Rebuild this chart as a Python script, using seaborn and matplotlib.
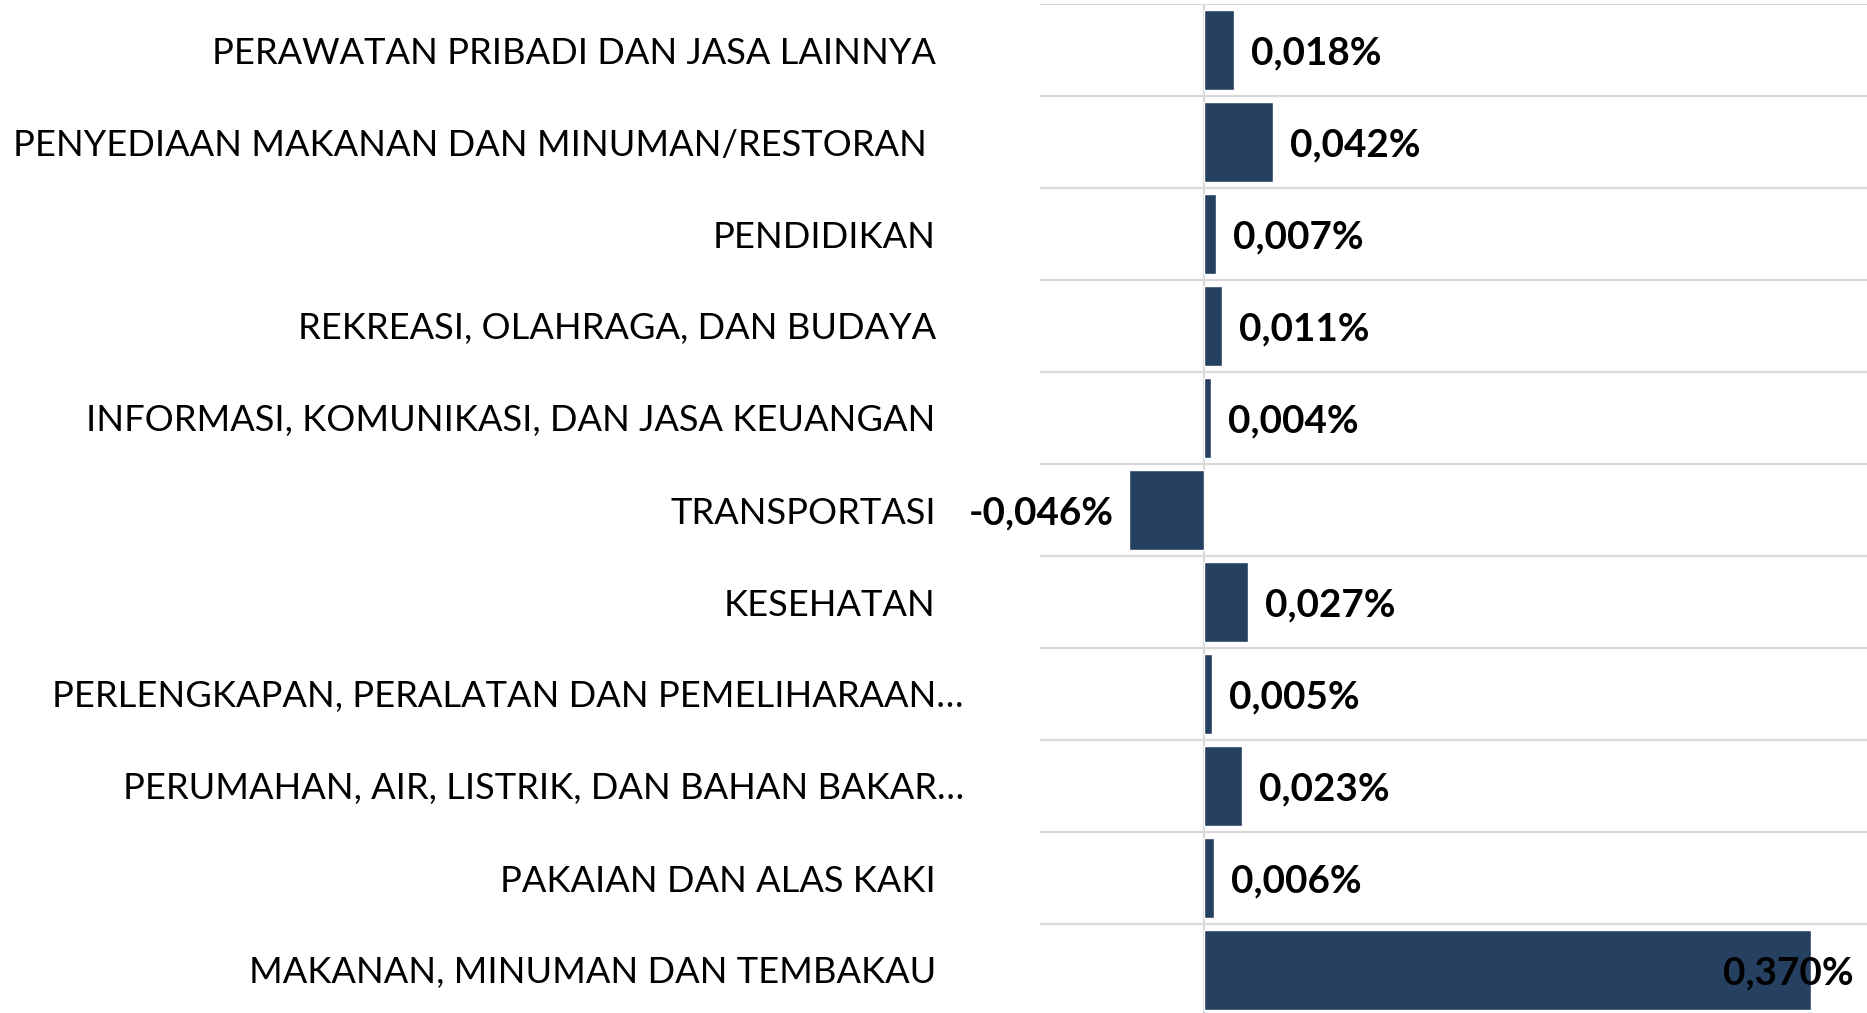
import matplotlib
matplotlib.use("Agg")
import matplotlib.pyplot as plt
import seaborn as sns
import pandas as pd
import matplotlib.transforms as mtrans

categories = [
    "PERAWATAN PRIBADI DAN JASA LAINNYA",
    "PENYEDIAAN MAKANAN DAN MINUMAN/RESTORAN ",
    "PENDIDIKAN",
    "REKREASI, OLAHRAGA, DAN BUDAYA",
    "INFORMASI, KOMUNIKASI, DAN JASA KEUANGAN",
    "TRANSPORTASI",
    "KESEHATAN",
    "PERLENGKAPAN, PERALATAN DAN PEMELIHARAAN\u2026",
    "PERUMAHAN, AIR, LISTRIK, DAN BAHAN BAKAR\u2026",
    "PAKAIAN DAN ALAS KAKI",
    "MAKANAN, MINUMAN DAN TEMBAKAU",
]
values = [0.018, 0.042, 0.007, 0.011, 0.004, -0.046, 0.027, 0.005, 0.023, 0.006, 0.370]

sns.set_theme(style="white")
plt.rcParams["font.family"] = ["Lato", "DejaVu Sans"]

W, H, DPI = 1867, 1013, 100
fig = plt.figure(figsize=(W / DPI, H / DPI), dpi=DPI)
ax_left = 1040 / W
ax_top = 1 - 4 / H
row_px = 92.0
ax_h = row_px * len(categories) / H
ax = fig.add_axes([ax_left, ax_top - ax_h, 1 - ax_left, ax_h])

df = pd.DataFrame({"cat": categories, "val": values})
bar_color = "#264061"
grid_color = "#d9d9d9"

n = len(categories)
ax.hlines([i - 0.5 for i in range(n + 1)], -0.1, 0.404, color=grid_color, lw=1.6, zorder=0)
ax.axvline(0, color=grid_color, lw=1.6, zorder=0)

sns.barplot(data=df, x="val", y="cat", orient="h", color=bar_color, saturation=1,
            width=0.88, errorbar=None, ax=ax, zorder=2)

ax.set_xlim(-0.1, 0.404)
ax.set_ylim(n - 0.5, -0.5)
for s in ax.spines.values():
    s.set_visible(False)
ax.set_xlabel("")
ax.set_ylabel("")
ax.set_xticks([])
ax.tick_params(axis="y", length=0, pad=75, labelsize=26.1, labelcolor="black")

# shift truncated labels a bit right as in the reference
for lab in ax.get_yticklabels():
    if lab.get_text().endswith("\u2026"):
        lab.set_transform(lab.get_transform() + mtrans.ScaledTranslation(28 / DPI, 0, fig.dpi_scale_trans))

texts = []
for i, v in enumerate(values):
    s = f"{v:.3f}".replace(".", ",") + "%"
    off = 17 if v >= 0 else -15
    t = ax.annotate(s, xy=(v, i), xytext=(off, -3), textcoords="offset pixels",
                    ha="left" if v >= 0 else "right", va="center",
                    fontsize=27.8, fontweight="bold", color="black", zorder=3)
    texts.append((t, off))

fig.canvas.draw()
r = fig.canvas.get_renderer()
limit = W - 13
for t, off in texts:
    bb = t.get_window_extent(r)
    if bb.x1 > limit:
        t.xyann = (off - (bb.x1 - limit), -3)

fig.savefig("out.png", dpi=DPI)
